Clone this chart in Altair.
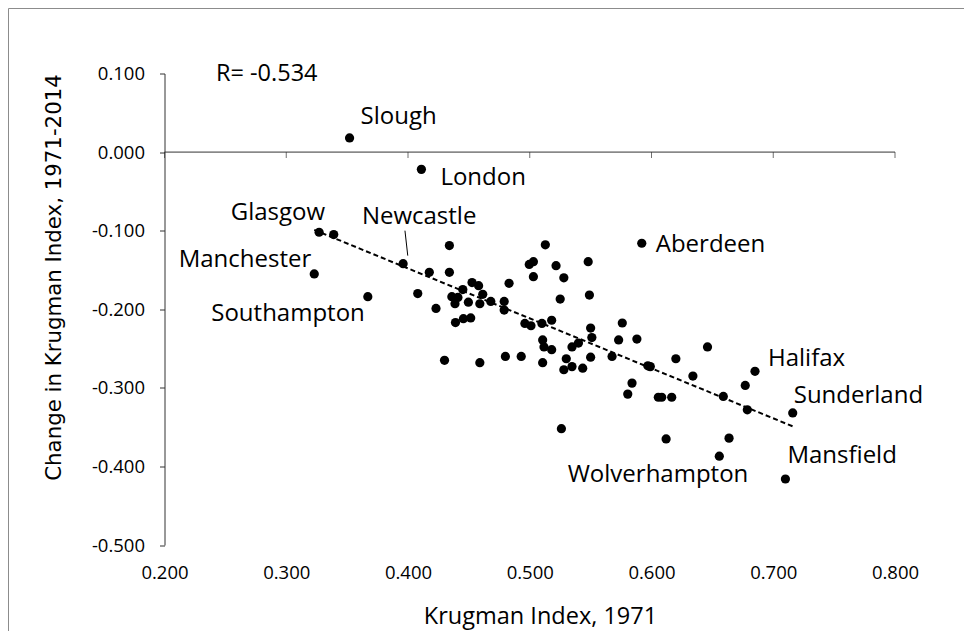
import altair as alt
import pandas as pd

# ---- data ----
krugman_1971 = [
    0.352, 0.411, 0.327, 0.339, 0.323, 0.367, 0.396, 0.4175, 0.434, 0.434,
    0.408, 0.423, 0.430, 0.439, 0.4455, 0.4515, 0.436, 0.4386, 0.441, 0.445,
    0.4496, 0.4526, 0.458, 0.4614, 0.459, 0.459, 0.468, 0.479, 0.479, 0.480,
    0.483, 0.493, 0.496, 0.501, 0.4996, 0.503, 0.503, 0.510, 0.5128, 0.518,
    0.5216, 0.528, 0.525, 0.5106, 0.5117, 0.518, 0.5106, 0.530, 0.528, 0.5347,
    0.5435, 0.5347, 0.540, 0.526, 0.548, 0.549, 0.550, 0.551, 0.550, 0.5676,
    0.573, 0.576, 0.588, 0.592, 0.597, 0.599, 0.584, 0.5805, 0.6056, 0.6084,
    0.6166, 0.612, 0.620, 0.634, 0.646, 0.659, 0.6637, 0.6557, 0.677, 0.6787,
    0.685, 0.710, 0.716,
]
change_1971_2014 = [
    0.018, -0.022, -0.102, -0.105, -0.155, -0.184, -0.142, -0.153, -0.119, -0.153,
    -0.180, -0.199, -0.265, -0.217, -0.212, -0.211, -0.184, -0.193, -0.185, -0.175,
    -0.191, -0.166, -0.170, -0.181, -0.193, -0.268, -0.190, -0.190, -0.201, -0.260,
    -0.167, -0.260, -0.218, -0.221, -0.143, -0.1395, -0.1586, -0.218, -0.118, -0.214,
    -0.1446, -0.160, -0.187, -0.239, -0.248, -0.2515, -0.268, -0.263, -0.277, -0.273,
    -0.275, -0.248, -0.243, -0.352, -0.1395, -0.182, -0.224, -0.236, -0.261, -0.260,
    -0.239, -0.2175, -0.238, -0.116, -0.272, -0.273, -0.294, -0.308, -0.312, -0.312,
    -0.312, -0.365, -0.263, -0.285, -0.248, -0.311, -0.364, -0.387, -0.297, -0.328,
    -0.279, -0.416, -0.332,
]
city = [""] * len(krugman_1971)
city[0] = "Slough"
city[1] = "London"
city[2] = "Glasgow"
city[4] = "Manchester"
city[5] = "Southampton"
city[6] = "Newcastle"
city[63] = "Aberdeen"
city[77] = "Wolverhampton"
city[80] = "Halifax"
city[81] = "Mansfield"
city[82] = "Sunderland"

x_ticks = [0.2, 0.3, 0.4, 0.5, 0.6, 0.7, 0.8]
y_ticks = [0.1, 0.0, -0.1, -0.2, -0.3, -0.4, -0.5]
r_text = "R= -0.534"
r_pos = [0.2423, 0.1]
leader_x = [0.3975, 0.3998]
leader_y = [-0.100, -0.1318]

# label placement: (name, align, dx, dy)
label_style = [
    ("Slough", "left", 11, -21),
    ("London", "left", 19, 9),
    ("Glasgow", "right", 6, -19),
    ("Newcastle", "center", 16, -47),
    ("Manchester", "right", -3, -14),
    ("Southampton", "right", -3, 17),
    ("Aberdeen", "left", 14, 2),
    ("Halifax", "left", 13, -12),
    ("Sunderland", "left", 1, -17),
    ("Mansfield", "left", 2, -23),
    ("Wolverhampton", "right", 29, 19),
]

df = pd.DataFrame({"x": krugman_1971, "y": change_1971_2014, "city": city})

W, H = 730.5, 471.5
PL, PT = 156.5, 65.5
PR = 956 - PL - W
PB = 623 - PT - H
AX = "#333333"
FONT = "Open Sans"

xs = alt.Scale(domain=[0.2, 0.8], nice=False, zero=False)
ys = alt.Scale(domain=[-0.5, 0.1], nice=False, zero=False)

x_axis = alt.Axis(
    values=x_ticks, format=".3f", domain=False, ticks=False, grid=False,
    labelPadding=27, labelBaseline="middle", labelFontSize=18.5,
    labelFont=FONT, labelColor="black", labelFlush=False, labelOverlap=False,
    title="Krugman Index, 1971", titleFont=FONT, titleFontSize=23.5,
    titleFontWeight="normal", titleColor="black", titleY=71, titleX=375.5,
    titleBaseline="middle", titleAlign="center",
)
y_axis = alt.Axis(
    values=y_ticks,
    labelExpr="datum.value < -0.00001 ? '-' + format(-datum.value, '.3f') : format(abs(datum.value), '.3f')",
    domain=True, domainColor=AX, ticks=True, tickSize=5, tickColor=AX,
    labelPadding=15, grid=False, labelFontSize=18.5, labelFont=FONT,
    labelColor="black", labelFlush=False, labelOverlap=False,
    title="Change in Krugman Index, 1971-2014", titleFont="DejaVu Sans",
    titleFontSize=21.3, titleFontWeight="normal", titleColor="black",
    titleX=-110, titleY=203.5, titleAngle=-90, titleBaseline="middle",
    titleAlign="center",
)


def X():
    return alt.X("x:Q", scale=xs, axis=x_axis)


def Y():
    return alt.Y("y:Q", scale=ys, axis=y_axis)


points = alt.Chart(df).mark_circle(size=85, color="black", opacity=1).encode(x=X(), y=Y())

trend = alt.Chart(df).transform_regression("x", "y").mark_line(
    color="black", strokeDash=[5, 3], strokeWidth=2
).encode(x=X(), y=Y())

zero_df = pd.DataFrame({"x": [x_ticks[0]], "x2": [x_ticks[-1]], "y": [0.0]})
zero_line = alt.Chart(zero_df).mark_rule(color=AX, strokeWidth=1).encode(
    x=X(), x2="x2:Q", y=Y()
)

tick_df = pd.DataFrame({"x": x_ticks, "y": [0.0] * len(x_ticks)})
zero_ticks = alt.Chart(tick_df).mark_tick(
    orient="vertical", size=6, thickness=1, yOffset=3, color=AX
).encode(x=X(), y=Y())

leader_df = pd.DataFrame({"x": [leader_x[0]], "x2": [leader_x[1]],
                          "y": [leader_y[0]], "y2": [leader_y[1]]})
leader = alt.Chart(leader_df).mark_rule(color="black", strokeWidth=1).encode(
    x=X(), x2="x2:Q", y=Y(), y2="y2:Q"
)

r_df = pd.DataFrame({"x": [r_pos[0]], "y": [r_pos[1]], "t": [r_text]})
r_label = alt.Chart(r_df).mark_text(
    align="left", baseline="middle", font=FONT, fontSize=23.5, color="black"
).encode(x=X(), y=Y(), text="t:N")

labels = []
for name, align, dx, dy in label_style:
    labels.append(
        alt.Chart(df[df["city"] == name]).mark_text(
            align=align, baseline="middle", dx=dx, dy=dy,
            font=FONT, fontSize=24, color="black"
        ).encode(x=X(), y=Y(), text="city:N")
    )

one = pd.DataFrame({"a": [0]})
border_left = alt.Chart(one).mark_rule(color="#8c8c8c", strokeWidth=1).encode(
    x=alt.value(-PL + 0.5), y=alt.value(-PT + 0.5), y2=alt.value(H + PB)
)
border_top = alt.Chart(one).mark_rule(color="#8c8c8c", strokeWidth=1).encode(
    x=alt.value(-PL + 0.5), x2=alt.value(W + PR), y=alt.value(-PT + 0.5)
)

chart = alt.layer(
    points, trend, zero_line, zero_ticks, leader, r_label, *labels, border_left, border_top
).properties(
    width=W, height=H,
    autosize=alt.AutoSizeParams(type="none"),
    padding={"left": PL, "top": PT, "right": PR, "bottom": PB},
    background="white",
).configure_view(stroke=None)

chart.save("out.html", embed_options={"renderer": "svg", "actions": False})
